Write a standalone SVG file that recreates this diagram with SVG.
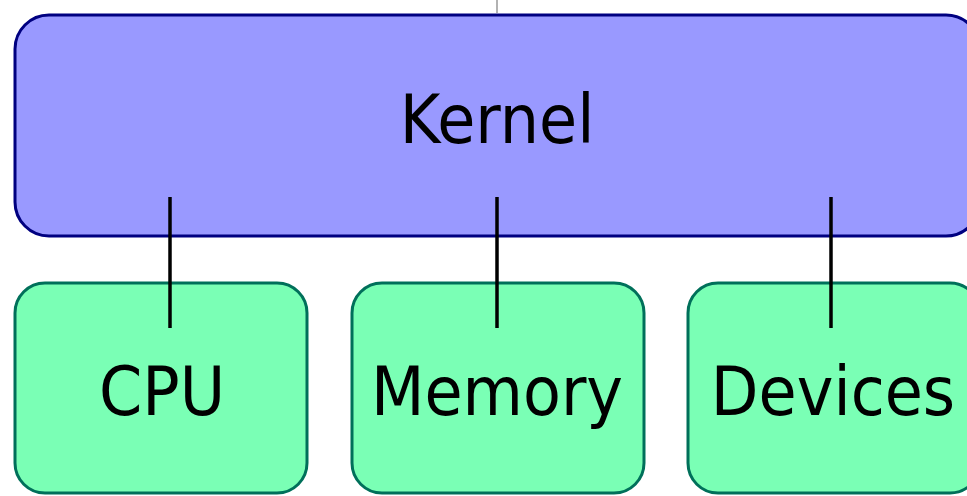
<svg xmlns="http://www.w3.org/2000/svg" width="967" height="496" viewBox="0 0 967 496">
<style>
.k{fill:#9999ff;stroke:#000080;stroke-width:3}
.g{fill:#7affb5;stroke:#00705a;stroke-width:3}
.t{font-family:"DejaVu Sans",sans-serif;font-size:62px;fill:#000;text-anchor:middle}
.c{stroke:#000;stroke-width:3.5;fill:none}
</style>
<rect width="967" height="496" fill="#fff"/>
<line x1="497" y1="0" x2="497" y2="13" stroke="#999" stroke-width="1.5"/>
<g id="kernel">
<rect class="k" x="15" y="15" width="965" height="221" rx="34" ry="34"/>
<text class="t" transform="matrix(1,0,0,1.08,497,143)">Kernel</text>
</g>
<g id="cpu">
<rect class="g" x="15" y="283" width="292" height="210" rx="30" ry="30"/>
<text class="t" transform="matrix(1,0,0,1.08,162,415)">CPU</text>
</g>
<g id="memory">
<rect class="g" x="352" y="283" width="292" height="210" rx="30" ry="30"/>
<text class="t" transform="matrix(1,0,0,1.08,497,415)">Memory</text>
</g>
<g id="devices">
<rect class="g" x="688" y="283" width="292" height="210" rx="30" ry="30"/>
<text class="t" transform="matrix(1,0,0,1.08,833,415)">Devices</text>
</g>
<g id="connectors">
<line class="c" x1="170" y1="197" x2="170" y2="328"/>
<line class="c" x1="497" y1="197" x2="497" y2="328"/>
<line class="c" x1="831" y1="197" x2="831" y2="328"/>
</g>
</svg>
